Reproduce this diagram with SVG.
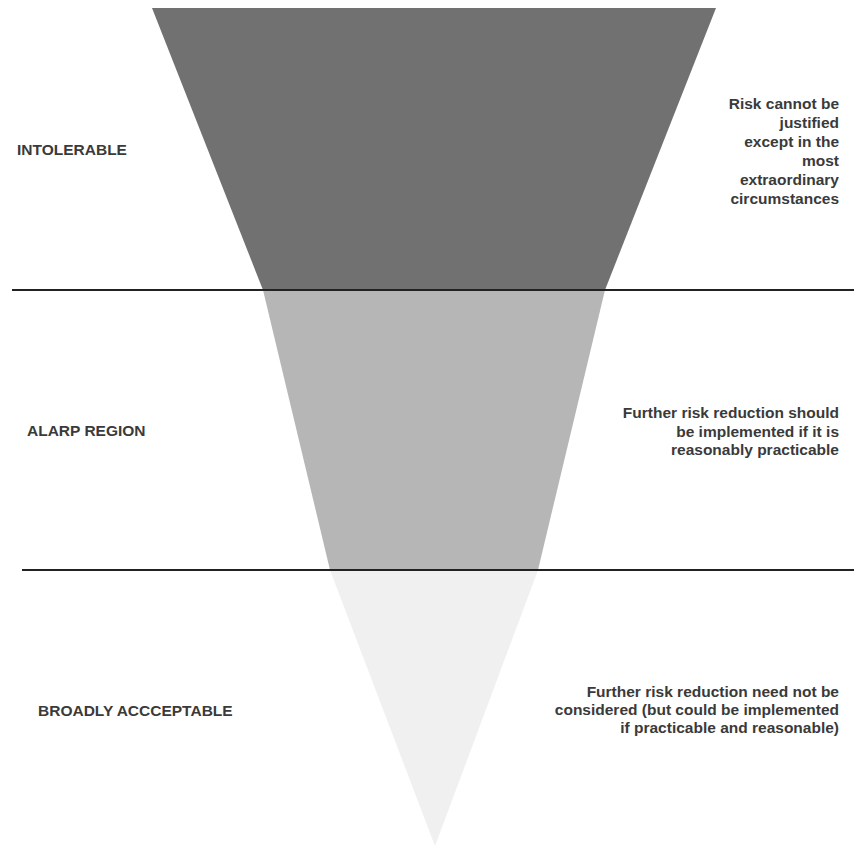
<svg xmlns="http://www.w3.org/2000/svg" width="854" height="852" viewBox="0 0 854 852">
  <style>
    .lbl { font-family: "Liberation Sans", Arial, sans-serif; font-weight: bold; font-size: 15.5px; fill: #3a3a3a; }
    .desc { font-family: "Liberation Sans", Arial, sans-serif; font-weight: bold; font-size: 15.5px; fill: #3a3a3a; text-anchor: end; }
    .sep { stroke: #222; stroke-width: 2; fill: none; }
  </style>
  <rect x="0" y="0" width="854" height="852" fill="#ffffff"/>
  <g id="funnel">
    <polygon id="zone-intolerable" points="152,8 716,8 605,290 263,290" fill="#717171"/>
    <polygon id="zone-alarp" points="263,290 605,290 538,570 330,570" fill="#b6b6b6"/>
    <polygon id="zone-acceptable" points="330,570 538,570 435,846" fill="#f0f0f0"/>
  </g>
  <g id="connectors">
    <line class="sep" x1="12" y1="290" x2="854" y2="290"/>
    <line class="sep" x1="22" y1="570" x2="854" y2="570"/>
  </g>
  <g id="label-intolerable">
    <text class="lbl" x="17" y="155">INTOLERABLE</text>
  </g>
  <g id="label-alarp">
    <text class="lbl" x="27" y="436">ALARP REGION</text>
  </g>
  <g id="label-acceptable">
    <text class="lbl" x="38" y="716">BROADLY ACCCEPTABLE</text>
  </g>
  <g id="desc-intolerable">
    <text class="desc" x="839" y="109">Risk cannot be</text>
    <text class="desc" x="839" y="128">justified</text>
    <text class="desc" x="839" y="147">except in the</text>
    <text class="desc" x="839" y="166">most</text>
    <text class="desc" x="839" y="185">extraordinary</text>
    <text class="desc" x="839" y="204">circumstances</text>
  </g>
  <g id="desc-alarp">
    <text class="desc" x="839" y="418">Further risk reduction should</text>
    <text class="desc" x="839" y="436.5">be implemented if it is</text>
    <text class="desc" x="839" y="455">reasonably practicable</text>
  </g>
  <g id="desc-acceptable">
    <text class="desc" x="839" y="697">Further risk reduction need not be</text>
    <text class="desc" x="839" y="715">considered (but could be implemented</text>
    <text class="desc" x="839" y="733">if practicable and reasonable)</text>
  </g>
</svg>
